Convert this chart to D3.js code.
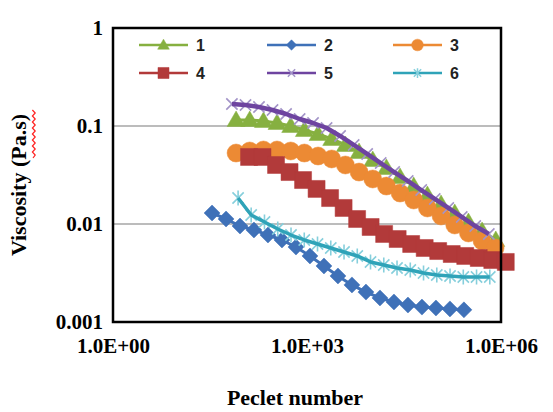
<!DOCTYPE html>
<html><head><meta charset="utf-8">
<script src="https://cdn.jsdelivr.net/npm/d3@7"></script>
<style>body{margin:0;background:#fff}svg{display:block}</style>
</head><body>
<svg id="c" width="553" height="412"></svg>
<script>
// ---- data ----
const seriesNames = ["1","2","3","4","5","6"];
const yTicks = [1, 0.1, 0.01, 0.001];
const yTickLabels = ["1","0.1","0.01","0.001"];
const xTicks = [1, 1e3, 1e6];
const xTickLabels = ["1.0E+00","1.0E+03","1.0E+06"];

const pe1 = [80,130,212,344,560,911,1482,2411,3923,6383,10390,16900,27500,44700,72800,118400,192700,313500,510000,830000];
const visc1 = [0.1151,0.1151,0.1125,0.1073,0.1,0.0910,0.0829,0.0737,0.0640,0.0543,0.0450,0.0373,0.0302,0.0244,0.01977,0.0160,0.01295,0.01048,0.00849,0.00687];

const pe2 = [34,56,92,151,249,410,675,1111,1829,3010,4955,8156,13425,22100,36370,59870,98550,162200,267000];
const visc2 = [0.01295,0.01125,0.00954,0.00869,0.00772,0.00687,0.00582,0.00472,0.00373,0.00295,0.00239,0.00202,0.00176,0.00160,0.00149,0.00142,0.00139,0.00136,0.00133];

const pe3 = [80,130,212,344,560,911,1482,2411,3923,6383,10390,16900,27500,44700,72800,118400,192700,313500,510000,810000];
const visc3 = [0.0530,0.0556,0.0569,0.0569,0.0556,0.0530,0.0494,0.0461,0.0400,0.0339,0.0288,0.0244,0.0207,0.01758,0.01457,0.01207,0.00977,0.00810,0.00671,0.00569];

const pe4 = [127,205,332,537,869,1406,2275,3681,5956,9637,15590,25230,40820,66050,106900,172900,279800,452700,732500,1185000];
const visc4 = [0.0483,0.0483,0.0400,0.0339,0.0281,0.0228,0.0184,0.01457,0.01125,0.00932,0.00791,0.00703,0.00625,0.00569,0.00530,0.00494,0.00472,0.00450,0.00429,0.00410];

const pe5 = [69,112,181,293,475,770,1240,2010,3250,5270,8520,13800,22300,36100,58400,94500,153000,247000,400000,648000];
const visc5 = [0.1677,0.1638,0.1562,0.1457,0.1326,0.1179,0.1073,0.0954,0.0791,0.0640,0.0518,0.0419,0.0339,0.0275,0.0222,0.0180,0.01457,0.01179,0.00954,0.00791];

const pe6 = [86,137,220,353,566,907,1454,2331,3737,5990,9600,15390,24670,39550,63400,101600,162900,261100,418600,671000];
const visc6 = [0.0184,0.01235,0.01048,0.00889,0.00772,0.00687,0.00625,0.00569,0.00518,0.00472,0.00410,0.00382,0.00356,0.00339,0.00316,0.00302,0.00295,0.00288,0.00288,0.00288];

const peData = [pe1,pe2,pe3,pe4,pe5,pe6];
const viscData = [visc1,visc2,visc3,visc4,visc5,visc6];

// ---- styles ----
const lineColors = ["#86b040","#3f71b8","#ec8a34","#b23a3a","#6e44a0","#2fa3b8"];
const markColors = ["#86b040","#3f71b8","#ec8a34","#b23a3a","#a394c8","#86cfdc"];
const lineWidths = [3,3,3,3,4.5,3.5];
const markerTypes = ["triangle","diamond","circle","square","x","star"];
const markerSize = [18,16,18,17,15,15];

const svg = d3.select("#c");
const L = 113, R = 501, T = 28, B = 322;
const x = d3.scaleLog().domain([1,1e6]).range([L,R]);
const y = d3.scaleLog().domain([0.001,1]).range([B,T]);

function markerPath(type, s){
  const h = s/2;
  switch(type){
    case "triangle": return `M0,${-h} L${h},${h*0.72} L${-h},${h*0.72} Z`;
    case "diamond": return `M0,${-h} L${h},0 L0,${h} L${-h},0 Z`;
    case "square": return `M${-h},${-h} H${h} V${h} H${-h} Z`;
    case "circle": return d3.symbol(d3.symbolCircle, Math.PI*h*h)();
    case "x": { const k=h*0.75; return `M${-k},${-k} L${k},${k} M${-k},${k} L${k},${-k}`; }
    case "star": { const k=h*0.75; return `M${-k},${-k} L${k},${k} M${-k},${k} L${k},${-k} M0,${-h} L0,${h}`; }
  }
}
const filled = t => !(t==="x"||t==="star");

// gridlines
svg.append("g").selectAll("line").data([0.1,0.01]).join("line")
  .attr("x1",L).attr("x2",R).attr("y1",d=>y(d)).attr("y2",d=>y(d))
  .attr("stroke","#a6a6a6").attr("stroke-width",1.5);

// y axis labels
const yAxis = d3.axisLeft(y).tickValues(yTicks).tickFormat((d,i)=>yTickLabels[i]).tickSize(0).tickPadding(10);
svg.append("g").attr("transform",`translate(${L},0)`).call(yAxis)
  .call(g=>g.select(".domain").remove())
  .selectAll("text").attr("font-family","'Liberation Serif','Times New Roman',serif")
  .attr("font-weight","bold").attr("font-size",21).attr("fill","#000");

// x axis labels
const xAxis = d3.axisBottom(x).tickValues(xTicks).tickFormat((d,i)=>xTickLabels[i]).tickSize(0).tickPadding(16);
svg.append("g").attr("transform",`translate(0,${B})`).call(xAxis)
  .call(g=>g.select(".domain").remove())
  .selectAll("text").attr("font-family","'Liberation Serif','Times New Roman',serif")
  .attr("font-weight","bold").attr("font-size",21).attr("fill","#000");

// series
const line = d3.line().x(d=>x(d[0])).y(d=>y(d[1]));
seriesNames.forEach((name,i)=>{
  const pts = peData[i].map((p,j)=>[p, viscData[i][j]]);
  const g = svg.append("g");
  const t = markerTypes[i];
  if(filled(t)){
    g.append("path").datum(pts).attr("d",line).attr("fill","none")
      .attr("stroke",lineColors[i]).attr("stroke-width",lineWidths[i]).attr("stroke-linejoin","round");
  }
  g.selectAll("path.m").data(pts).join("path").attr("class","m")
    .attr("transform",d=>`translate(${x(d[0])},${y(d[1])})`)
    .attr("d",markerPath(t,markerSize[i]))
    .attr("fill",filled(t)?markColors[i]:"none")
    .attr("stroke",markColors[i]).attr("stroke-width",filled(t)?0.5:1.6);
  if(!filled(t)){ // line drawn over its thin markers
    g.append("path").datum(pts).attr("d",line).attr("fill","none")
      .attr("stroke",lineColors[i]).attr("stroke-width",lineWidths[i]).attr("stroke-linejoin","round");
  }
});

// plot frame
svg.append("rect").attr("x",L).attr("y",T).attr("width",R-L).attr("height",B-T)
  .attr("fill","none").attr("stroke","#000").attr("stroke-width",2.5);

// legend
const legX = [139,267,393], legY = [45,73];
seriesNames.forEach((name,i)=>{
  const cx = legX[i%3], cy = legY[Math.floor(i/3)];
  const g = svg.append("g").attr("transform",`translate(${cx},${cy})`);
  g.append("line").attr("x1",0).attr("x2",49).attr("stroke",lineColors[i]).attr("stroke-width",2.5);
  const t = markerTypes[i];
  g.append("path").attr("transform","translate(24.5,0)").attr("d",markerPath(t,markerSize[i]*0.65))
    .attr("fill",filled(t)?markColors[i]:"none").attr("stroke",markColors[i]).attr("stroke-width",filled(t)?0.5:1.5);
  g.append("text").attr("x",57).attr("y",6).text(name)
    .attr("font-family","'Liberation Sans',Arial,sans-serif").attr("font-weight","bold").attr("font-size",16).attr("fill","#222");
});

// axis titles
svg.append("text").attr("x",(L+R)/2-12).attr("y",405).attr("text-anchor","middle").text("Peclet number")
  .attr("font-family","'Liberation Serif','Times New Roman',serif").attr("font-weight","bold").attr("font-size",22);
const yt = svg.append("g").attr("transform","translate(26,185) rotate(-90)");
yt.append("text").attr("text-anchor","middle").text("Viscosity (Pa.s)")
  .attr("font-family","'Liberation Serif','Times New Roman',serif").attr("font-weight","bold").attr("font-size",22);
// spell-check squiggle under "Pa.s"
let sq = "M27,0";
for(let k=1;k<=16;k++){ sq += ` L${27+k*3},${k%2?2.2:-0.6}`; }
yt.append("path").attr("transform","translate(0,7)").attr("d",sq).attr("fill","none").attr("stroke","#ff2020").attr("stroke-width",1.2);
</script>
</body></html>
